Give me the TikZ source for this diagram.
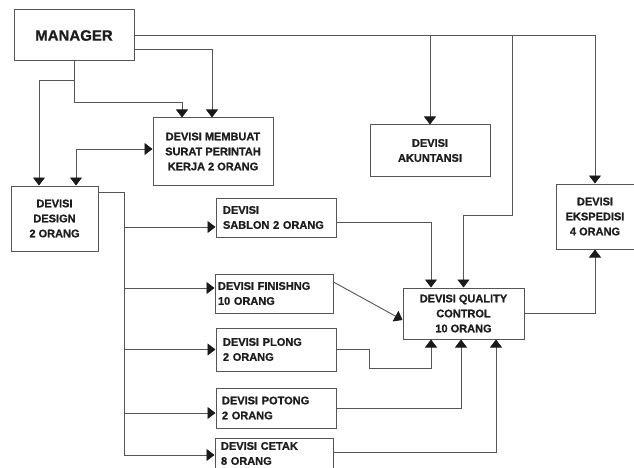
\documentclass[tikz,border=0pt]{standalone}
\usepackage{fontspec}
\setmainfont{Liberation Sans}[BoldFeatures={FakeBold=1}]
\usetikzlibrary{arrows.meta,calc}
\definecolor{lnc}{HTML}{555555}
\definecolor{txc}{HTML}{1E1E1E}
\definecolor{tipc}{HTML}{1A1A1A}
\begin{document}
\begin{tikzpicture}[x=1pt,y=-1pt,
  box/.style={draw=lnc,line width=1pt,inner sep=0pt,font=\bfseries\fontsize{11}{15}\selectfont,text=txc,align=center},
  lbox/.style={box,align=left},
  arr/.style={draw=lnc,line width=0.9pt,-{Triangle[width=12pt,length=8pt,color=tipc]}},
  darr/.style={draw=lnc,line width=0.9pt,{Triangle[width=12pt,length=8pt,color=tipc]}-{Triangle[width=12pt,length=8pt,color=tipc]}},
  wire/.style={draw=lnc,line width=0.9pt}]
\useasboundingbox[fill=white] (0,0) rectangle (634,468);

% nodes
\node[box,minimum width=120pt,minimum height=51pt,font=\bfseries\fontsize{15}{18}\selectfont] (man) at (74,35.5) {MANAGER};
\node[box,minimum width=120pt,minimum height=67pt] (mem) at (213,151.5) {DEVISI MEMBUAT\\SURAT PERINTAH\\KERJA 2 ORANG};
\node[box,minimum width=87pt,minimum height=65pt] (des) at (54.5,218.5) {DEVISI\\DESIGN\\2 ORANG};
\node[box,minimum width=120pt,minimum height=51pt] (aku) at (430,150.5) {DEVISI\\AKUNTANSI};
\node[box,minimum width=78pt,minimum height=65pt] (eks) at (595,216.5) {DEVISI\\EKSPEDISI\\4 ORANG};
\node[box,minimum width=121pt,minimum height=51pt] (qc) at (463.5,313.5) {DEVISI QUALITY\\CONTROL\\10 ORANG};
\node[lbox,text width=106pt,inner xsep=7pt,minimum height=39pt] (sab) at (276,217.5) {DEVISI\\SABLON 2 ORANG};
\node[lbox,text width=112pt,inner xsep=3pt,minimum height=39pt] (fin) at (274,293.5) {DEVISI FINISHNG\\10 ORANG};
\node[lbox,text width=106pt,inner xsep=7pt,minimum height=43pt] (plo) at (276,349.5) {DEVISI PLONG\\2 ORANG};
\node[lbox,text width=108pt,inner xsep=6pt,minimum height=40pt] (pot) at (276,408) {DEVISI POTONG\\2 ORANG};
\node[lbox,text width=106pt,inner xsep=6pt,minimum height=31pt] (cet) at (274,453.5) {DEVISI CETAK\\8 ORANG};

% manager connectors
\coordinate (qa) at (512,215);
\draw[arr] (man.east) -| (eks.north);
\draw[arr] (man.east -| aku.north) -- (aku.north);
\draw[arr] (man.east -| qa) -- (qa) -| (qc.north);
\draw[arr] ([yshift=-13.5pt]man.east) -| ([xshift=-1pt]mem.north);
\coordinate (ma) at (182,102);
\draw[arr] (man.south) |- (ma) -- (ma |- mem.north);
\coordinate (mb) at (74,80);
\draw[arr] (mb) -| ([xshift=-15.5pt]des.north);
\draw[darr] ([xshift=21.5pt]des.north) |- ([yshift=2.5pt]mem.west);

% design bus
\coordinate (bt) at (124,192);
\coordinate (bb) at (124,455);
\draw[wire] (bt -| des.east) -- (bt) -- (bb);
\draw[arr] (bb) -- (bb -| cet.west);
\coordinate (b1) at (124,227);
\coordinate (b2) at (124,288);
\coordinate (b3) at (124,349.5);
\coordinate (b4) at (124,413);
\draw[arr] (b1) -- (b1 -| sab.west);
\draw[arr] (b2) -- (b2 -| fin.west);
\draw[arr] (b3) -- (b3 -| plo.west);
\draw[arr] (b4) -- (b4 -| pot.west);

% to quality control
\draw[arr] ([yshift=-4.5pt]sab.east) -| ([xshift=-32.5pt]qc.north);
\draw[arr] ([yshift=11.5pt]fin.east) -- ([yshift=-6.5pt]qc.west);
\coordinate (p1) at (369,368);
\draw[arr] (plo.east) -| (p1) -| ([xshift=-32.5pt]qc.south);
\draw[arr] (pot.east) -| ([xshift=-2.5pt]qc.south);
\draw[arr] ([yshift=1pt]cet.east) -| ([xshift=32.5pt]qc.south);
\draw[arr] (qc.east) -| (eks.south);
\end{tikzpicture}
\end{document}
